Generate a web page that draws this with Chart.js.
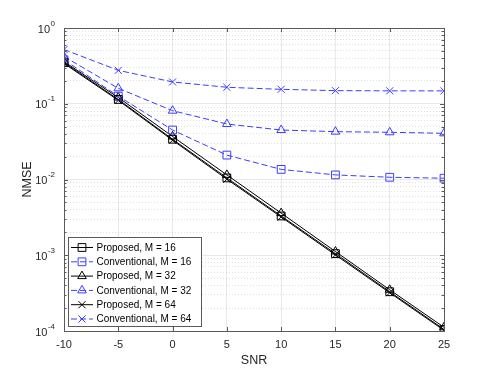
<!DOCTYPE html>
<html>
<head>
<meta charset="utf-8">
<script src="https://cdn.jsdelivr.net/npm/chart.js@4.4.0/dist/chart.umd.min.js"></script>
<style>
  html, body { margin: 0; padding: 0; background: #fff; }
  #wrap { width: 491px; height: 372px; position: relative; }
</style>
</head>
<body>
<div id="wrap"><canvas id="grafico"></canvas></div>
<script>
// SNR points (dB)
const snr = [-10, -5, 0, 5, 10, 15, 20, 25];
const xTicks = [-10, -5, 0, 5, 10, 15, 20, 25];
const yExponents = [0, -1, -2, -3, -4];

// NMSE
const propM16 = [0.35, 0.114, 0.034, 0.0105, 0.0033, 0.00105, 0.00033, 0.000105];
const convM16 = [0.38, 0.126, 0.045, 0.021, 0.0136, 0.0115, 0.0107, 0.0104];
const propM32 = [0.36, 0.121, 0.037, 0.0115, 0.0036, 0.00112, 0.00035, 0.000112];
const convM32 = [0.42, 0.16, 0.081, 0.054, 0.045, 0.0428, 0.042, 0.0407];
const propM64 = [0.34, 0.111, 0.033, 0.0101, 0.0032, 0.00101, 0.00032, 0.000102];
const convM64 = [0.52, 0.276, 0.194, 0.165, 0.155, 0.149, 0.148, 0.148];

const labels = ['Proposed, M = 16', 'Conventional, M = 16', 'Proposed, M = 32',
                'Conventional, M = 32', 'Proposed, M = 64', 'Conventional, M = 64'];

const FONT = '"Liberation Sans", Arial, Helvetica, sans-serif';
const BLUE = 'rgb(60,60,255)';
const AXIS = '#5a5a5a';

function serie(i, valores, marcador, conv) {
  return {
    label: labels[i],
    data: snr.map((x, k) => ({ x: x, y: valores[k] })),
    borderColor: conv ? BLUE : '#000',
    borderWidth: 1,
    borderDash: conv ? [6, 3] : [],
    pointStyle: marcador,
    pointRadius: marcador === 'rect' ? 5.5 : 5,
    pointBorderColor: conv ? BLUE : '#000',
    pointBackgroundColor: 'rgba(0,0,0,0)',
    pointBorderWidth: 1,
    tension: 0,
    fill: false
  };
}

function ehMajor(v) {
  const e = Math.log10(v);
  return Math.abs(e - Math.round(e)) < 1e-6;
}

function marcadorLegenda(ctx, estilo, x, y) {
  ctx.beginPath();
  if (estilo === 'rect') {
    const s = 5.5 * Math.SQRT1_2;
    ctx.rect(x - s, y - s, 2 * s, 2 * s);
  } else if (estilo === 'triangle') {
    const r = 5;
    ctx.moveTo(x, y - r);
    ctx.lineTo(x + r * Math.sin(Math.PI / 3), y + r / 2);
    ctx.lineTo(x - r * Math.sin(Math.PI / 3), y + r / 2);
    ctx.closePath();
  } else {
    const d = 5 * Math.SQRT1_2;
    ctx.moveTo(x - d, y - d); ctx.lineTo(x + d, y + d);
    ctx.moveTo(x + d, y - d); ctx.lineTo(x - d, y + d);
  }
  ctx.stroke();
}

const eixosPlugin = {
  id: 'eixosMatlab',
  afterDraw(chart) {
    const ctx = chart.ctx;
    const a = chart.chartArea;
    const xs = chart.scales.x, ys = chart.scales.y;
    ctx.save();

    // caixa + ticks para dentro
    ctx.strokeStyle = AXIS;
    ctx.lineWidth = 1;
    ctx.setLineDash([]);
    ctx.strokeRect(Math.round(a.left) + 0.5, Math.round(a.top) + 0.5,
                   Math.round(a.right - a.left), Math.round(a.bottom - a.top));
    ctx.beginPath();
    xTicks.forEach(v => {
      const px = Math.round(xs.getPixelForValue(v)) + 0.5;
      ctx.moveTo(px, a.bottom); ctx.lineTo(px, a.bottom - 4);
      ctx.moveTo(px, a.top); ctx.lineTo(px, a.top + 4);
    });
    ys.ticks.forEach(t => {
      const py = Math.round(ys.getPixelForValue(t.value)) + 0.5;
      const len = ehMajor(t.value) ? 4 : 2.5;
      ctx.moveTo(a.left, py); ctx.lineTo(a.left + len, py);
      ctx.moveTo(a.right, py); ctx.lineTo(a.right - len, py);
    });
    ctx.stroke();

    // rotulos dos ticks
    ctx.fillStyle = '#262626';
    ctx.font = '11px ' + FONT;
    ctx.textAlign = 'center';
    ctx.textBaseline = 'middle';
    xTicks.forEach(v => {
      ctx.fillText(String(v), xs.getPixelForValue(v), a.bottom + 13.5);
    });
    yExponents.forEach(e => {
      const py = ys.getPixelForValue(Math.pow(10, e));
      const exp = String(e);
      ctx.font = '8px ' + FONT;
      const we = ctx.measureText(exp).width;
      ctx.textAlign = 'right';
      ctx.fillText(exp, 55, py - 4.5);
      ctx.font = '11px ' + FONT;
      ctx.fillText('10', 55 - we - 0.5, py + 1.5);
    });

    // titulos
    ctx.font = '12.5px ' + FONT;
    ctx.textAlign = 'center';
    ctx.fillText('SNR', (a.left + a.right) / 2, 361);
    ctx.translate(28, (a.top + a.bottom) / 2);
    ctx.rotate(-Math.PI / 2);
    ctx.fillText('NMSE', 0, 0);
    ctx.setTransform(1, 0, 0, 1, 0, 0);

    // legenda
    const bx = 68.5, by = 237.5, bw = 133, bh = 89;
    ctx.fillStyle = '#fff';
    ctx.fillRect(bx, by, bw, bh);
    ctx.strokeStyle = AXIS;
    ctx.strokeRect(bx, by, bw, bh);
    ctx.font = '10px ' + FONT;
    ctx.textAlign = 'left';
    ctx.textBaseline = 'middle';
    chart.data.datasets.forEach((ds, i) => {
      const y = 247.5 + i * 14.3;
      ctx.strokeStyle = ds.borderColor;
      ctx.lineWidth = 1;
      ctx.setLineDash(ds.borderDash);
      ctx.beginPath();
      ctx.moveTo(71, y); ctx.lineTo(93, y);
      ctx.stroke();
      ctx.setLineDash([]);
      marcadorLegenda(ctx, ds.pointStyle, 82, y);
      ctx.fillStyle = '#000';
      ctx.fillText(ds.label, 96.5, y + 0.5);
    });
    ctx.restore();
  }
};

const yTicksTodos = [];
for (let e = -4; e <= 0; e++) {
  for (let m = 1; m <= 9; m++) {
    if (e === 0 && m > 1) break;
    yTicksTodos.push(Number((m * Math.pow(10, e)).toPrecision(3)));
  }
}

const ctx = document.getElementById('grafico').getContext('2d');
window.grafico = new Chart(ctx, {
  type: 'line',
  data: {
    datasets: [
      serie(0, propM16, 'rect', false),
      serie(1, convM16, 'rect', true),
      serie(2, propM32, 'triangle', false),
      serie(3, convM32, 'triangle', true),
      serie(4, propM64, 'crossRot', false),
      serie(5, convM64, 'crossRot', true)
    ]
  },
  options: {
    responsive: true,
    maintainAspectRatio: false,
    animation: false,
    layout: { padding: { top: 28, right: 47, left: 0, bottom: 0 } },
    plugins: { legend: { display: false }, tooltip: { enabled: false } },
    scales: {
      x: {
        type: 'linear',
        min: -10,
        max: 25,
        afterBuildTicks: s => { s.ticks = xTicks.map(v => ({ value: v })); },
        afterFit: s => { s.height = 41; },
        ticks: { display: false },
        grid: { color: 'rgba(38,38,38,0.1)', drawTicks: false, lineWidth: 1 },
        border: { display: false }
      },
      y: {
        type: 'logarithmic',
        min: 1e-4,
        max: 1,
        afterBuildTicks: s => { s.ticks = yTicksTodos.map(v => ({ value: v })); },
        afterFit: s => { s.width = 64; },
        ticks: { display: false },
        grid: {
          drawTicks: false,
          lineWidth: 1,
          color: c => ehMajor(c.tick.value) ? 'rgba(38,38,38,0.1)' : 'rgba(38,38,38,0.14)'
        },
        border: {
          display: false,
          dash: c => ehMajor(c.tick.value) ? [] : [1, 2]
        }
      }
    }
  },
  plugins: [eixosPlugin]
});
</script>
</body>
</html>
